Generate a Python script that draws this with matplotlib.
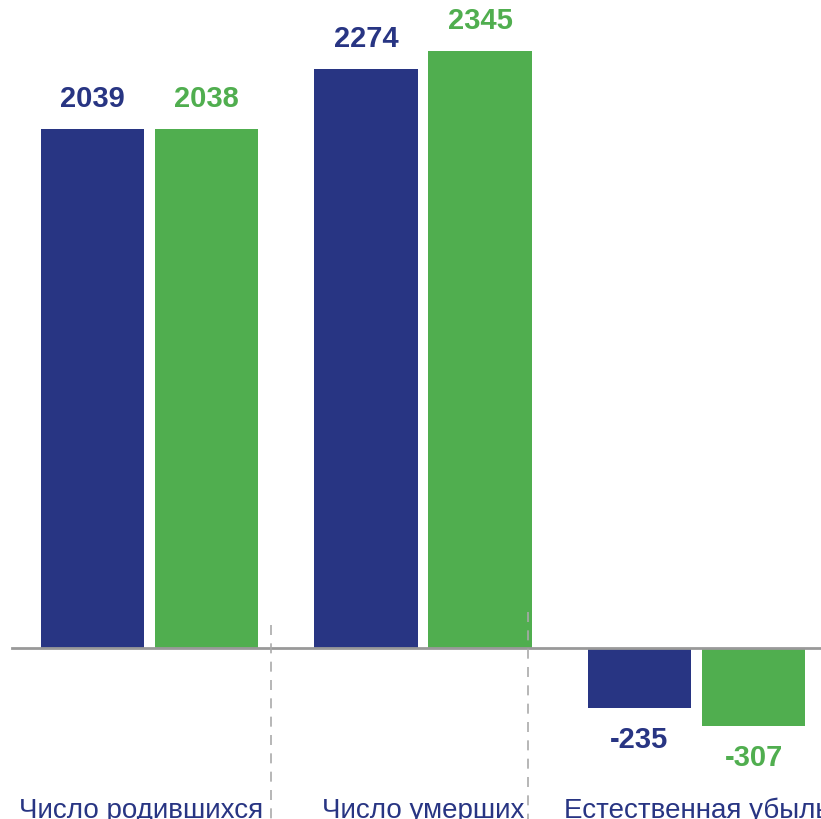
import matplotlib
matplotlib.use("Agg")
import matplotlib.pyplot as plt
import numpy as np

categories = ["Число родившихся", "Число умерших", "Естественная убыль"]
series_a = [2039, 2274, -235]
series_b = [2038, 2345, -307]

BLUE = "#283583"
GREEN = "#50AE4F"

fig = plt.figure(figsize=(8.21, 8.19), dpi=100)
ax = fig.add_axes([0, 0, 1, 1])
ax.set_xlim(-0.5466, 2.4552)
ax.set_ylim(-671.6, 2545)
ax.axis("off")

x = np.arange(len(categories))
w = 0.377
off = 0.2085
ax.bar(x - off, series_a, width=w, color=BLUE, zorder=2)
ax.bar(x + off, series_b, width=w, color=GREEN, zorder=2)

ax.plot([-0.503, 2.5], [0, 0], color="#999999", lw=2, zorder=3, clip_on=False)

# dashed separators
for sx, top in [(0.444, 90), (1.384, 141)]:
    ax.plot([sx, sx], [top, -700], color="#aaaaaa", lw=1.2, ls=(0, (6, 5)), zorder=4)

for xi, va_, vb_ in zip(x, series_a, series_b):
    for dx, v, c in [(-off, va_, BLUE), (off, vb_, GREEN)]:
        if v >= 0:
            ax.text(xi + dx, v + 62, f"{v}", ha="center", va="bottom",
                    fontsize=21, fontweight="bold", color=c, family="Liberation Sans")
        else:
            ax.text(xi + dx, v - 72, f"{v}", ha="center", va="top",
                    fontsize=21, fontweight="bold", color=c, family="Liberation Sans")

for xi, cat in zip(x, categories):
    ax.text(xi - (0.03 if xi == 0 else 0), -640, cat, ha="center", va="center",
            fontsize=20, color=BLUE, family="Liberation Sans")

fig.savefig("out.png", dpi=100)
